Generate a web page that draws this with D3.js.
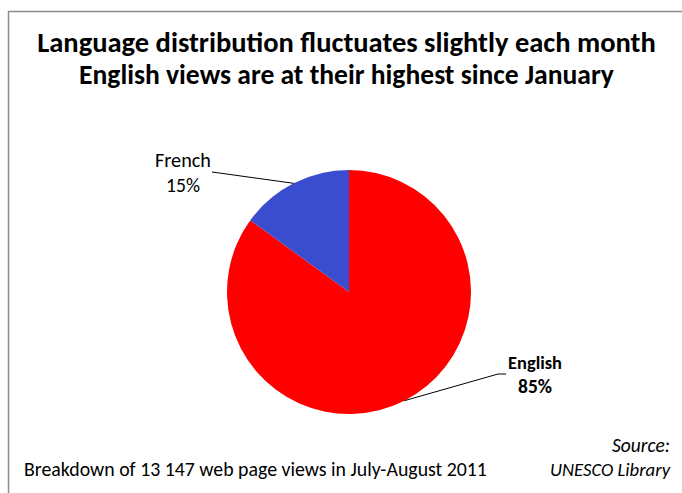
<!DOCTYPE html>
<html>
<head>
<meta charset="utf-8">
<script src="https://cdn.jsdelivr.net/npm/d3@7"></script>
<style>
  html, body { margin: 0; padding: 0; background: #fff; }
  svg { display: block; }
  text { font-family: Carlito, Calibri, Lato, "Open Sans", sans-serif; fill: #000; }
</style>
</head>
<body>
<svg id="chart" width="682" height="493"></svg>
<script>
// Language breakdown of page views
const languages = ["English", "French"];
const shares = [85, 15];
const sliceColors = ["#ff0000", "#3b4dcf"];
const titleLines = [
  "Language distribution fluctuates slightly each month",
  "English views are at their highest since January"
];
const footnote = "Breakdown of 13 147 web page views in July-August 2011";
const sourceLines = ["Source:", "UNESCO Library"];

const svg = d3.select("#chart");
const W = 682, H = 493;

// Chart frame
svg.append("rect")
  .attr("x", 8.5).attr("y", 11.5)
  .attr("width", W + 20).attr("height", H + 20)
  .attr("fill", "#fff").attr("stroke", "#8c8c8c").attr("stroke-width", 1.5);

// Set a text's font size so it spans the given width
function fitText(sel, width) {
  const node = sel.node();
  const base = 20;
  sel.style("font-size", base + "px");
  const w = node.getComputedTextLength();
  sel.style("font-size", (base * width / w) + "px");
  return sel;
}

// Title
const titleWidths = [619, 535];
const titleBaselines = [52, 84];
titleLines.forEach((t, i) => {
  const s = svg.append("text")
    .attr("x", 346.5).attr("y", titleBaselines[i])
    .attr("text-anchor", "middle")
    .style("font-weight", "bold")
    .text(t);
  fitText(s, titleWidths[i]);
});

// Pie
const cx = 349, cy = 292, r = 122;
const pie = d3.pie().sort(null).value(d => d.share).startAngle(0).endAngle(2 * Math.PI);
const data = languages.map((l, i) => ({ lang: l, share: shares[i], color: sliceColors[i] }));
const arcs = pie(data);
const arc = d3.arc().innerRadius(0).outerRadius(r);

const g = svg.append("g").attr("transform", `translate(${cx},${cy})`);
g.selectAll("path.slice")
  .data(arcs)
  .join("path")
  .attr("class", "slice")
  .attr("d", arc)
  .attr("fill", d => d.data.color);

// Labels with leader lines
const labelSpec = {
  English: { x: 535, y1: 369, y2: 393, bold: true, w1: 54, w2: 34, anchor: [506, 374], elbow: [498, 374] },
  French:  { x: 183, y1: 167, y2: 192, bold: false, w1: 56, w2: 34, anchor: [212, 172], elbow: [212, 172] }
};
const fmt = d => d3.format(".0f")(d.data.share) + "%";

arcs.forEach(d => {
  const spec = labelSpec[d.data.lang];
  const mid = (d.startAngle + d.endAngle) / 2;
  const ex = cx + Math.sin(mid) * r;
  const ey = cy - Math.cos(mid) * r;
  svg.append("polyline")
    .attr("points", [spec.anchor, spec.elbow, [ex, ey]].map(p => p.join(",")).join(" "))
    .attr("fill", "none").attr("stroke", "#000").attr("stroke-width", 1);
  const t1 = svg.append("text").attr("x", spec.x).attr("y", spec.y1)
    .attr("text-anchor", "middle")
    .style("font-weight", spec.bold ? "bold" : "normal")
    .text(d.data.lang);
  fitText(t1, spec.w1);
  const t2 = svg.append("text").attr("x", spec.x).attr("y", spec.y2)
    .attr("text-anchor", "middle")
    .style("font-weight", spec.bold ? "bold" : "normal")
    .text(fmt(d));
  fitText(t2, spec.w2);
});

// Footnote and source
fitText(svg.append("text").attr("x", 24).attr("y", 476).text(footnote), 463);
fitText(svg.append("text").attr("x", 670).attr("y", 452).attr("text-anchor", "end")
  .style("font-style", "italic").text(sourceLines[0]), 58);
fitText(svg.append("text").attr("x", 670).attr("y", 476).attr("text-anchor", "end")
  .style("font-style", "italic").text(sourceLines[1]), 120);
</script>
</body>
</html>
